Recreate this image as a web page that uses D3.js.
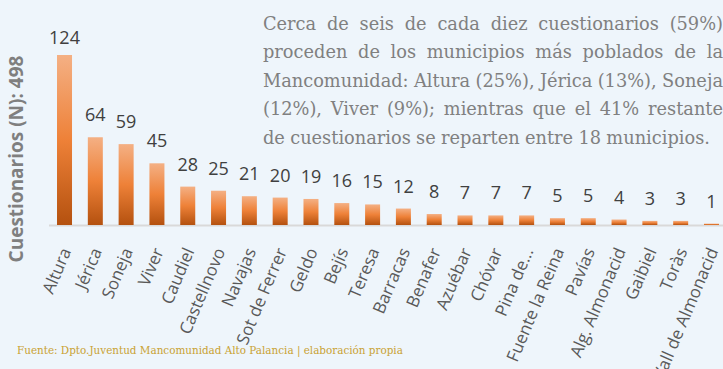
<!DOCTYPE html>
<html>
<head>
<meta charset="utf-8">
<script src="https://cdn.jsdelivr.net/npm/d3@7"></script>
<style>
  html, body { margin: 0; padding: 0; background: #eef5fb; }
  svg { display: block; }
</style>
</head>
<body>
<svg id="chart" width="723" height="369"></svg>
<script>
// Cuestionarios por municipio
const municipios = ["Altura", "Jérica", "Soneja", "Viver", "Caudiel", "Castellnovo", "Navajas",
  "Sot de Ferrer", "Geldo", "Bejís", "Teresa", "Barracas", "Benafer", "Azuébar", "Chóvar",
  "Pina de...", "Fuente la Reina", "Pavías", "Alg. Almonacid", "Gaibiel", "Toràs", "Vall de Almonacid"];
const cuestionarios = [124, 64, 59, 45, 28, 25, 21, 20, 19, 16, 15, 12, 8, 7, 7, 7, 5, 5, 4, 3, 3, 1];
const totalN = 498;

const tituloEje = "Cuestionarios (N): " + totalN;
const textoLineas = [
  "Cerca de seis de cada diez cuestionarios (59%)",
  "proceden de los municipios más poblados de la",
  "Mancomunidad: Altura (25%), Jérica (13%), Soneja",
  "(12%), Viver (9%); mientras que el 41% restante",
  "de cuestionarios se reparten entre 18 municipios."
];
const fuente = "Fuente: Dpto.Juventud Mancomunidad Alto Palancia | elaboración propia";

const data = municipios.map((m, i) => ({ name: m, value: cuestionarios[i] }));

const svg = d3.select("#chart");
const W = 723, H = 369;

svg.append("rect").attr("width", W).attr("height", H).attr("fill", "#eef5fb");

// Bar gradient: light peach at the top, orange in the middle, dark at the base
const defs = svg.append("defs");
const grad = defs.append("linearGradient")
  .attr("id", "barGrad")
  .attr("x1", 0).attr("y1", 0).attr("x2", 0).attr("y2", 1);
grad.append("stop").attr("offset", "0%").attr("stop-color", "#f4b084");
grad.append("stop").attr("offset", "50%").attr("stop-color", "#ee8138");
grad.append("stop").attr("offset", "100%").attr("stop-color", "#b4510f");

const plot = { left: 49, right: 727, top: 55, bottom: 225 };

const x = d3.scaleBand()
  .domain(municipios)
  .range([plot.left, plot.right])
  .paddingInner(0.513)
  .paddingOuter(0.26);

const y = d3.scaleLinear()
  .domain([0, d3.max(cuestionarios)])
  .range([plot.bottom, plot.top]);

// Baseline (drawn under the bars)
svg.append("line")
  .attr("x1", plot.left).attr("x2", W)
  .attr("y1", y(0) + 0.5).attr("y2", y(0) + 0.5)
  .attr("stroke", "#d9d9d9")
  .attr("stroke-width", 2);

// Bars
svg.append("g")
  .selectAll("rect")
  .data(data)
  .join("rect")
  .attr("x", d => x(d.name))
  .attr("y", d => y(d.value))
  .attr("width", x.bandwidth())
  .attr("height", d => y(0) - y(d.value))
  .attr("fill", "url(#barGrad)");

// Value labels (kept inside the plot area)
svg.append("g")
  .selectAll("text")
  .data(data)
  .join("text")
  .attr("x", d => x(d.name) + x.bandwidth() / 2)
  .attr("y", d => Math.max(y(d.value) - 16, 44))
  .attr("text-anchor", "middle")
  .attr("font-family", "'Open Sans', sans-serif")
  .attr("font-size", 18)
  .attr("fill", "#404040")
  .text(d => d.value);

// Category axis labels, rotated
const xAxis = d3.axisBottom(x).tickSize(0).tickPadding(0);
const gx = svg.append("g")
  .attr("transform", `translate(0,${y(0)})`)
  .call(xAxis);
gx.select(".domain").remove();
gx.selectAll("text")
  .attr("font-family", "'Open Sans', sans-serif")
  .attr("font-size", 17)
  .attr("fill", "#595959")
  .attr("text-anchor", "end")
  .attr("dy", null)
  .attr("y", 0)
  .attr("transform", "translate(7,26) rotate(-67)");

// Y axis title
svg.append("text")
  .attr("transform", "translate(23,159) rotate(-90)")
  .attr("text-anchor", "middle")
  .attr("font-family", "'Open Sans', sans-serif")
  .attr("font-weight", "bold")
  .attr("font-size", 19)
  .attr("fill", "#7f7f7f")
  .text(tituloEje);

// Justified annotation block
const box = { left: 263, right: 723, firstBaseline: 30, lineHeight: 28.4 };
const note = svg.append("g")
  .attr("font-family", "'DejaVu Serif', serif")
  .attr("fill", "#808080");

// size the serif font so the closing (unjustified) line spans its natural width
const probe = note.append("text").attr("font-size", 20).text(textoLineas[textoLineas.length - 1]);
const probeW = probe.node().getComputedTextLength();
probe.remove();
const noteSize = 20 * 449 / probeW;
note.attr("font-size", noteSize);

textoLineas.forEach((line, li) => {
  const words = line.split(" ");
  const t = note.append("text").attr("y", box.firstBaseline + li * box.lineHeight);
  const spans = words.map(w => t.append("tspan").text(w));
  const widths = spans.map(s => s.node().getComputedTextLength());
  const spaceW = noteSize * 0.3;
  const last = li === textoLineas.length - 1;
  const gap = last ? spaceW : (box.right - box.left - d3.sum(widths)) / (words.length - 1);
  let cx = box.left;
  spans.forEach((s, i) => {
    s.attr("x", cx);
    cx += widths[i] + gap;
  });
});

// Source note
svg.append("text")
  .attr("x", 17)
  .attr("y", 354)
  .attr("font-family", "'DejaVu Serif', serif")
  .attr("font-size", 10.4)
  .attr("fill", "#c9a233")
  .text(fuente);
</script>
</body>
</html>
